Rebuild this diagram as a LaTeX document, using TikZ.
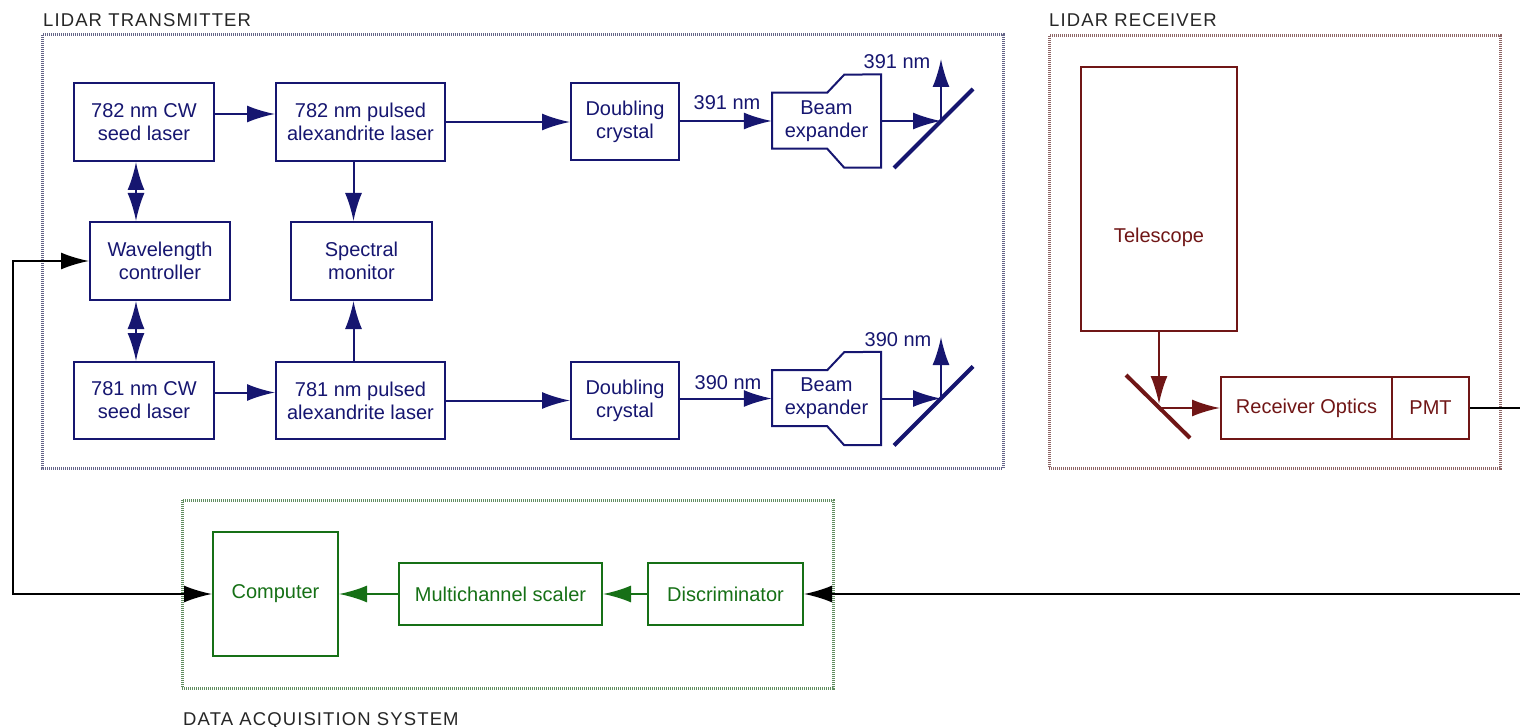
\documentclass[tikz,border=0pt]{standalone}
\usepackage{fontspec}
\setmainfont{Liberation Sans}
\newfontfamily\spacedfont[LetterSpace=6]{Liberation Sans}
\usetikzlibrary{arrows.meta}
\definecolor{txblue}{RGB}{22,22,112}
\definecolor{rxbrown}{RGB}{112,22,22}
\definecolor{daqgreen}{RGB}{22,112,22}
\definecolor{txframe}{RGB}{100,100,135}
\definecolor{rxframe}{RGB}{140,100,100}
\definecolor{daqframe}{RGB}{95,140,95}
\begin{document}
\begin{tikzpicture}[x=1pt, y=-1pt,
        every node/.style={font=\fontsize{20}{23}\selectfont, align=center, inner sep=0pt},
        >={Latex[length=28pt, width=17pt]},
        txbox/.style={draw=txblue, text=txblue, line width=2pt},
        rxbox/.style={draw=rxbrown, text=rxbrown, line width=2pt},
        daqbox/.style={draw=daqgreen, text=daqgreen, line width=2pt},
        txarrow/.style={txblue, line width=2pt, ->},
        txboth/.style={txblue, line width=2pt, <->},
        rxarrow/.style={rxbrown, line width=2pt, ->},
        daqarrow/.style={daqgreen, line width=2pt, ->},
        sigline/.style={black, line width=2pt},
        mirrorline/.style={line width=4pt},
        frame/.style={line width=3pt, dash pattern=on 1pt off 1pt},
        grouptitle/.style={anchor=base west, text=black!85, font=\spacedfont\fontsize{18.5}{22}\selectfont}]
    \useasboundingbox (0,0) rectangle (1520,727);

    % frames and their titles
    \draw[frame, txframe] (42,35) rectangle (1003,468);
    \draw[frame, rxframe] (1049,36) rectangle (1500,468);
    \draw[frame, daqframe] (182,500) rectangle (833,688);
    \node (txtitle) at (43,27) [grouptitle] {LIDAR TRANSMITTER};
    \node (rxtitle) at (1049,27) [grouptitle] {LIDAR RECEIVER};
    \node (daqtitle) at (183,725) [grouptitle] {DATA ACQUISITION SYSTEM};

    % transmitter
    \node (seed1) at (144,122) [txbox, minimum width=140, minimum height=78] {782 nm CW\\seed laser};
    \node (pulsed1) at (360.5,122) [txbox, minimum width=169, minimum height=78] {782 nm pulsed\\alexandrite laser};
    \node (dbl1) at (625,122) [txbox, minimum width=108, minimum height=77] {Doubling\\crystal};
    \node (exp1) at (826.5,121) [text=txblue, minimum width=109, minimum height=93] {Beam\\expander};
    \draw[txblue, line width=2pt] (exp1.north east) -- (exp1.south east) -- ++(-37,0) -- ++(-17,-19)
        -- ++(-55,0) -- ++(0,-56) -- ++(55,0) -- ++(17,-18) -- cycle;
    \coordinate (m1) at (941,121);
    \coordinate (o1) at (941,59);
    \draw[txblue, mirrorline] (m1) ++(-47,47) -- ++(79,-79);
    \node (w1) at (727,103) [text=txblue] {391 nm};
    \node (u1) at (897,62) [text=txblue] {391 nm};

    \node (wl) at (160,261) [txbox, minimum width=140, minimum height=78] {Wavelength\\controller};
    \node (spec) at (361.5,261) [txbox, minimum width=141, minimum height=78] {Spectral\\monitor};

    \node (seed2) at (144,400.5) [txbox, minimum width=140, minimum height=77] {781 nm CW\\seed laser};
    \node (pulsed2) at (360.5,400.5) [txbox, minimum width=169, minimum height=77] {781 nm pulsed\\alexandrite laser};
    \node (dbl2) at (625,400.5) [txbox, minimum width=108, minimum height=77] {Doubling\\crystal};
    \node (exp2) at (826.5,398.5) [text=txblue, minimum width=109, minimum height=93] {Beam\\expander};
    \draw[txblue, line width=2pt] (exp2.north east) -- (exp2.south east) -- ++(-37,0) -- ++(-17,-19)
        -- ++(-55,0) -- ++(0,-56) -- ++(55,0) -- ++(17,-18) -- cycle;
    \coordinate (m2) at (941,398.5);
    \coordinate (o2) at (941,337);
    \draw[txblue, mirrorline] (m2) ++(-47,47) -- ++(79,-79);
    \node (w2) at (728,383) [text=txblue] {390 nm};
    \node (u2) at (898,340) [text=txblue] {390 nm};

    \draw[txarrow] ([yshift=8]seed1.east) -- ([yshift=8]pulsed1.west);
    \draw[txarrow] (pulsed1.east) -- (dbl1.west);
    \draw[txarrow] ([yshift=1]dbl1.east) -- ([yshift=1]dbl1.east -| exp1.west);
    \draw[txarrow] (exp1.east) -- (m1);
    \draw[txarrow] (m1) -- (o1);
    \draw[txboth] ([xshift=-8]seed1.south) -- ([xshift=-8]seed1.south |- wl.north);
    \draw[txboth] ([xshift=-8]seed2.north) -- ([xshift=-8]seed2.north |- wl.south);
    \draw[txarrow] ([xshift=-7]pulsed1.south) -- ([xshift=-7]pulsed1.south |- spec.north);
    \draw[txarrow] ([xshift=-7]pulsed2.north) -- ([xshift=-7]pulsed2.north |- spec.south);
    \draw[txarrow] ([yshift=8]seed2.east) -- ([yshift=8]pulsed2.west);
    \draw[txarrow] (pulsed2.east) -- (dbl2.west);
    \draw[txarrow] ([yshift=2]dbl2.east) -- ([yshift=2]dbl2.east -| exp2.west);
    \draw[txarrow] (exp2.east) -- (m2);
    \draw[txarrow] (m2) -- (o2);

    % receiver
    \node (tel) at (1159,199) [rxbox, minimum width=156, minimum height=264] {};
    \node (tellabel) at (1159,237) [text=rxbrown] {Telescope};
    \node (ro) at (1306.5,408) [rxbox, minimum width=171, minimum height=62] {Receiver Optics};
    \node (pmt) at (1430.5,408) [rxbox, minimum width=77, minimum height=62] {PMT};
    \coordinate (m3) at (1159,408);
    \draw[rxbrown, mirrorline] (m3) ++(-33,-33) -- ++(64,63);
    \draw[rxarrow, shorten >=4pt] (tel.south) -- (m3);
    \draw[rxarrow] (m3) -- (ro.west);

    % data acquisition
    \node (comp) at (275.5,594) [daqbox, minimum width=125, minimum height=124] {Computer};
    \node (mcs) at (500.5,594) [daqbox, minimum width=203, minimum height=62] {Multichannel scaler};
    \node (disc) at (725.5,594) [daqbox, minimum width=155, minimum height=62] {Discriminator};
    \draw[daqarrow] (mcs.west) -- (comp.east);
    \draw[daqarrow] (disc.west) -- (mcs.east);

    % signal lines
    \coordinate (r1) at (1520,408);
    \coordinate (r2) at (1520,594);
    \coordinate (l1) at (13,261);
    \draw[sigline] (pmt.east) -- (r1);
    \draw[sigline, ->] (r2) -- (disc.east);
    \draw[sigline, <->] (comp.west) -| (l1) |- (wl.west);
\end{tikzpicture}
\end{document}
